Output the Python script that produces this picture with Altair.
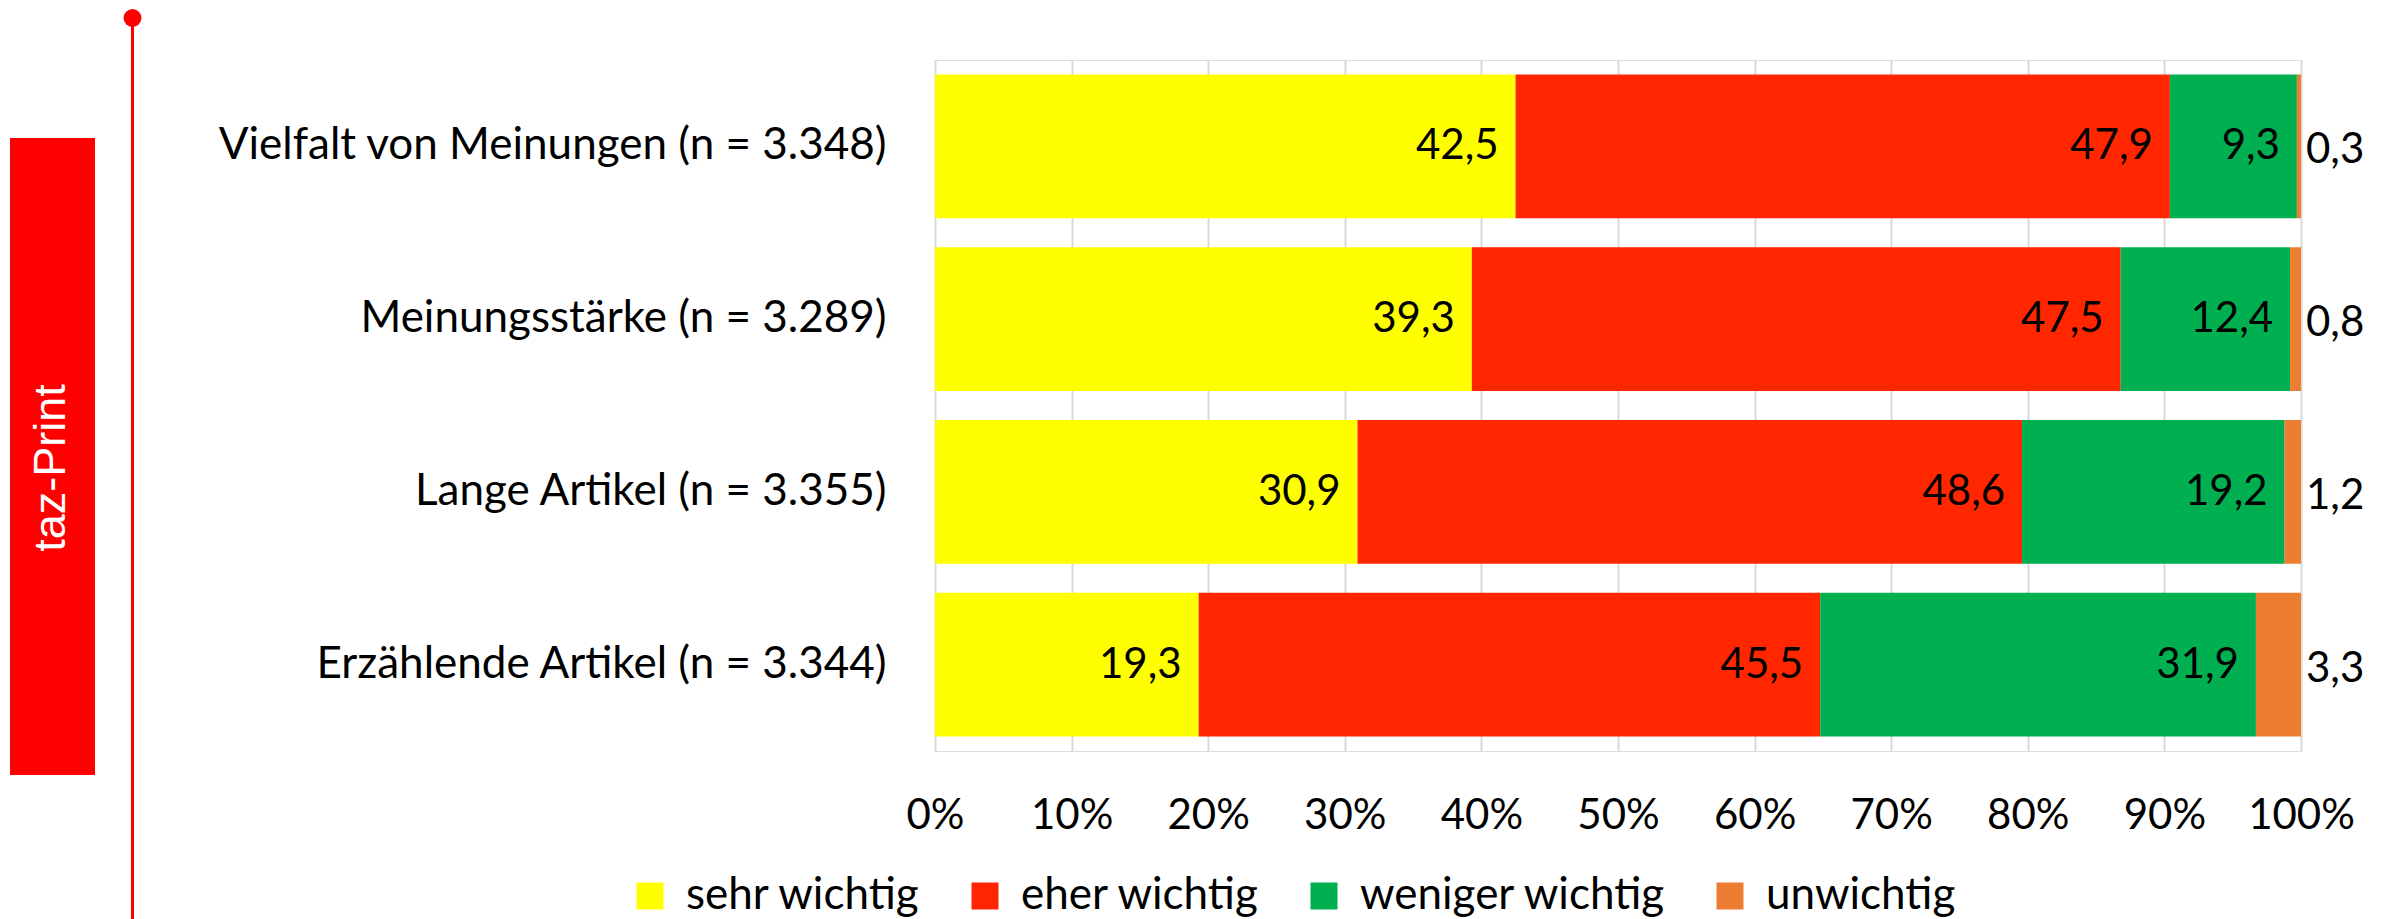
import altair as alt
import pandas as pd

categories = [
    "Vielfalt von Meinungen (n = 3.348)",
    "Meinungsstärke (n = 3.289)",
    "Lange Artikel (n = 3.355)",
    "Erzählende Artikel (n = 3.344)",
]
series = ["sehr wichtig", "eher wichtig", "weniger wichtig", "unwichtig"]
sehr_wichtig = [42.5, 39.3, 30.9, 19.3]
eher_wichtig = [47.9, 47.5, 48.6, 45.5]
weniger_wichtig = [9.3, 12.4, 19.2, 31.9]
unwichtig = [0.3, 0.8, 1.2, 3.3]
colors = ["#FFFF00", "#FF2600", "#00B050", "#ED7D31"]
tick_values = [0, 10, 20, 30, 40, 50, 60, 70, 80, 90, 100]

values = [sehr_wichtig, eher_wichtig, weniger_wichtig, unwichtig]
rows = []
for ci, cat in enumerate(categories):
    total = sum(v[ci] for v in values)
    start = 0.0
    for si, s in enumerate(series):
        v = values[si][ci]
        end = start + v * 100.0 / total
        rows.append({
            "cat": cat, "series": s, "order": si, "value": v,
            "start": start, "end": end,
            "label": f"{v:.1f}".replace(".", ","),
            "inside": si < 3,
        })
        start = end
df = pd.DataFrame(rows)

FONT = "Lato"
W, H = 1366, 691

y_enc = alt.Y("cat:N", sort=categories, title=None,
              scale=alt.Scale(paddingInner=0.168, paddingOuter=0.084),
              axis=alt.Axis(labelFont=FONT, labelFontSize=44, labelColor="black",
                            labelPadding=49, ticks=False, domain=False, grid=False,
                            labelLimit=1000))
x_scale = alt.Scale(domain=[0, 100], nice=False, zero=True)

bars = alt.Chart(df).mark_bar(cornerRadius=0).encode(
    x=alt.X("start:Q", scale=x_scale, title=None,
            axis=alt.Axis(values=tick_values, labelExpr="datum.value + '%'",
                          labelFont=FONT, labelFontSize=42, labelColor="black",
                          labelPadding=44, ticks=False, domain=False,
                          grid=True, gridColor="#D9D9D9", gridWidth=2,
                          labelFlush=False)),
    x2="end:Q",
    y=y_enc,
    color=alt.Color("series:N", sort=series,
                    scale=alt.Scale(domain=series, range=colors),
                    legend=alt.Legend(title=None, orient="none", legendX=-307, legendY=814,
                                      direction="horizontal", columnPadding=42,
                                      labelOffset=14, symbolSize=729, symbolType="square",
                                      symbolStrokeWidth=0, labelFont=FONT, labelFontSize=44,
                                      labelColor="black", labelLimit=600, padding=0)),
    order=alt.Order("order:Q"),
)

inside_text = alt.Chart(df).transform_filter("datum.inside").mark_text(
    align="right", baseline="middle", dx=-17, font=FONT, fontSize=42, color="black"
).encode(x=alt.X("end:Q", scale=x_scale), y=alt.Y("cat:N", sort=categories), text="label:N")

outside_text = alt.Chart(df).transform_filter("!datum.inside").mark_text(
    align="left", baseline="middle", dx=5, dy=4, font=FONT, fontSize=42, color="black"
).encode(x=alt.X("end:Q", scale=x_scale), y=alt.Y("cat:N", sort=categories), text="label:N")

deco_df = pd.DataFrame({"t": ["taz-Print"]})
deco_rect = alt.Chart(deco_df).mark_rect(color="#FF0000").encode(
    x=alt.value(-925), x2=alt.value(-840), y=alt.value(78), y2=alt.value(715))
deco_line = alt.Chart(deco_df).mark_rule(color="#FF0000", strokeWidth=3).encode(
    x=alt.value(-802.5), y=alt.value(-42), y2=alt.value(880))
deco_dot = alt.Chart(deco_df).mark_point(filled=True, color="#FF0000", opacity=1, size=320,
                                         shape="circle").encode(
    x=alt.value(-802.5), y=alt.value(-42))
deco_text = alt.Chart(deco_df).mark_text(
    angle=270, align="center", baseline="middle",
    font="Liberation Sans",
    fontSize=45, color="white").encode(x=alt.value(-884), y=alt.value(408), text="t:N")

chart = alt.layer(bars, inside_text, outside_text, deco_rect, deco_line, deco_dot, deco_text).properties(
    width=W, height=H,
    autosize=alt.AutoSizeParams(type="none"),
    padding={"left": 927, "top": 52, "right": 70, "bottom": 168},
).configure_view(stroke=None).configure(background="white")

chart.save("out.html", embed_options={"renderer": "svg", "actions": False})
